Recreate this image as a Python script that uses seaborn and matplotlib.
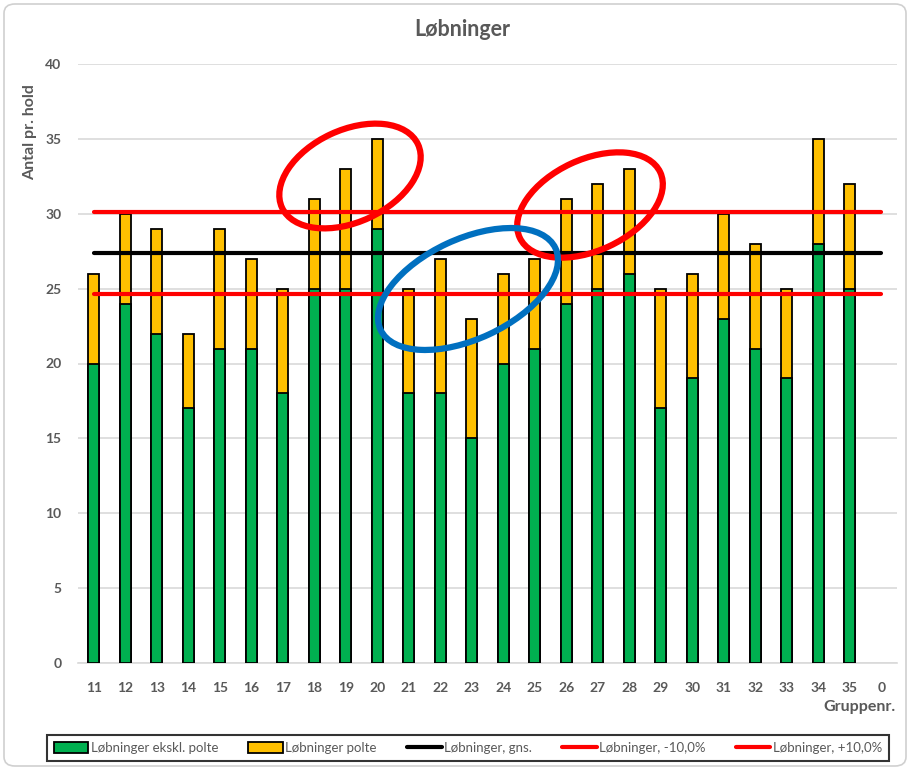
import numpy as np
import pandas as pd
import matplotlib
matplotlib.use("Agg")
import matplotlib.pyplot as plt
import seaborn as sns
from matplotlib.patches import Ellipse, Patch, FancyBboxPatch
from matplotlib.lines import Line2D
from matplotlib.transforms import IdentityTransform

# ---- data ----
groups = ["11", "12", "13", "14", "15", "16", "17", "18", "19", "20", "21", "22", "23",
          "24", "25", "26", "27", "28", "29", "30", "31", "32", "33", "34", "35", "0"]
ekskl_polte = [20, 24, 22, 17, 21, 21, 18, 25, 25, 29, 18, 18, 15,
               20, 21, 24, 25, 26, 17, 19, 23, 21, 19, 28, 25, 0]
total = [26, 30, 29, 22, 29, 27, 25, 31, 33, 35, 25, 27, 23,
         26, 27, 31, 32, 33, 25, 26, 30, 28, 25, 35, 32, 0]
gns = 27.38
minus10 = 24.65
plus10 = 30.12
yticks = [0, 5, 10, 15, 20, 25, 30, 35, 40]

title = "Løbninger"
ylabel = "Antal pr. hold"
xlabel = "Gruppenr."
legend_labels = ["Løbninger ekskl. polte", "Løbninger polte", "Løbninger, gns.",
                 "Løbninger, -10,0%", "Løbninger, +10,0%"]

GREEN = "#00B050"
YELLOW = "#FFC000"
RED = "#FF0000"
BLUE = "#0070C0"
GREY = "#595959"

sns.set_theme(style="white")
plt.rcParams["font.family"] = ["Lato", "DejaVu Sans"]

W, H = 910, 770
fig = plt.figure(figsize=(W / 100, H / 100), dpi=100)
ax = fig.add_axes([78 / W, 1 - 663 / H, (897 - 78) / W, (663 - 64) / H])

df = pd.DataFrame({"grp": groups, "green": ekskl_polte, "total": total})

sns.barplot(data=df, x="grp", y="total", order=groups, color=YELLOW, width=0.35,
            edgecolor="black", linewidth=1.3, saturation=1, ax=ax, zorder=3)
sns.barplot(data=df, x="grp", y="green", order=groups, color=GREEN, width=0.35,
            edgecolor="black", linewidth=1.3, saturation=1, ax=ax, zorder=4)
# zero-height bars have no visible outline in the reference
for p in ax.patches:
    if p.get_height() == 0:
        p.set_linewidth(0)

xs = np.arange(len(groups))
sns.lineplot(x=xs, y=[gns] * len(groups), color="black", linewidth=3, ax=ax, zorder=5)
sns.lineplot(x=xs, y=[minus10] * len(groups), color=RED, linewidth=3, ax=ax, zorder=5)
sns.lineplot(x=xs, y=[plus10] * len(groups), color=RED, linewidth=3, ax=ax, zorder=5)

ax.set_xlim(-0.5, len(groups) - 0.5)
ax.set_ylim(0, 40)
ax.set_yticks(yticks)
ax.set_xticks(xs)
ax.set_xticklabels(groups)
ax.grid(axis="y", color="#D9D9D9", linewidth=1.2, zorder=0)
ax.set_axisbelow(True)
for s in ["top", "right", "left"]:
    ax.spines[s].set_visible(False)
ax.spines["bottom"].set_color("#D9D9D9")
ax.spines["bottom"].set_linewidth(1.2)
ax.tick_params(axis="both", length=0, labelsize=10, labelcolor=GREY)
ax.tick_params(axis="x", pad=14)
ax.tick_params(axis="y", pad=12)
for lab in ax.get_xticklabels() + ax.get_yticklabels():
    lab.set_fontweight("bold")

ax.set_xlabel("")
ax.set_ylabel(ylabel, fontsize=11.5, color=GREY, fontweight="bold")
ax.yaxis.set_label_coords((37 - 78) / (897 - 78), (663 - 132) / (663 - 64))

fig.text(896 / W, 1 - 707 / H, xlabel, ha="right", va="center", fontsize=11.5,
         color=GREY, fontweight="bold")
fig.text(462 / W, 1 - 30 / H, title, ha="center", va="center", fontsize=15.5,
         color=GREY, fontweight="bold")

# annotation ellipses (display pixels, y from bottom)
for (cx, cy, w, h, ang, col) in [(350, 176, 150, 92, 25, RED),
                                  (590, 205, 155, 91, 25, RED),
                                  (468, 289, 193, 100, 25, BLUE)]:
    e = Ellipse((cx, H - cy), w, h, angle=ang, fill=False, edgecolor=col,
                linewidth=4.5, transform=IdentityTransform(), zorder=10)
    fig.add_artist(e)

# outer chart border
border = FancyBboxPatch((4 / W, 4 / H), 1 - 8 / W, 1 - 8 / H,
                        boxstyle="round,pad=0,rounding_size=0.012",
                        transform=fig.transFigure, fill=False,
                        edgecolor="#D0D0D0", linewidth=1.2)
fig.add_artist(border)

handles = [
    Patch(facecolor=GREEN, edgecolor="black", linewidth=1.3),
    Patch(facecolor=YELLOW, edgecolor="black", linewidth=1.3),
    Line2D([], [], color="black", linewidth=3),
    Line2D([], [], color=RED, linewidth=3),
    Line2D([], [], color=RED, linewidth=3),
]
leg = fig.legend(handles, legend_labels, loc="center", bbox_to_anchor=(468 / W, 1 - 748 / H),
                 ncol=5, fontsize=9.5, frameon=True, fancybox=False, handlelength=2.6,
                 handleheight=0.9, handletextpad=0.2, columnspacing=2.3,
                 borderpad=0.5, borderaxespad=0)
leg.get_frame().set_edgecolor("black")
leg.get_frame().set_linewidth(1.5)
for t in leg.get_texts():
    t.set_color(GREY)
leg._legend_box.sep = 0
leg.get_frame().set_boxstyle("square", pad=0)

fig.savefig("out.png", dpi=100, facecolor="white")
